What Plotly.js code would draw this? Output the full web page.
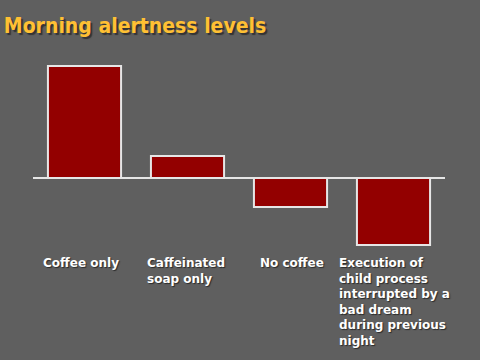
<!DOCTYPE html>
<html>
<head>
<meta charset="utf-8">
<script src="https://cdn.plot.ly/plotly-3.0.1.min.js"></script>
<style>html,body{margin:0;padding:0;background:#5f5f5f;}#chart{width:480px;height:360px;}</style>
</head>
<body>
<div id="chart"></div>
<script>
var categories = ["Coffee only", "Caffeinated soap only", "No coffee", "Execution of child process interrupted by a bad dream during previous night"];
var labels = ["Coffee only", "Caffeinated<br>soap only", "No coffee", "Execution of<br>child process<br>interrupted by a<br>bad dream<br>during previous<br>night"];
var alertness = [112, 22, -29, -67];

var labelShift = [-44, -43, -33, -57];
var annotations = categories.map(function (c, i) {
  return {
    x: c, xref: 'x', y: -76, yref: 'y',
    xanchor: 'left', yanchor: 'top', align: 'left',
    xshift: labelShift[i],
    text: labels[i], showarrow: false,
    font: {family: 'DejaVu Sans, Verdana, sans-serif', size: 12, color: '#ffffff', weight: 'bold', shadow: '1px 1px 1px #2a2a2a'}
  };
});

var data = [{
  type: 'bar',
  x: categories,
  y: alertness,
  marker: {color: '#930000', line: {color: '#e6e6e6', width: 2}},
  hoverinfo: 'none'
}];

var layout = {
  width: 480, height: 360,
  paper_bgcolor: '#5f5f5f', plot_bgcolor: '#5f5f5f',
  margin: {l: 33, r: 35, t: 50, b: 82},
  bargap: 0.29,
  showlegend: false,
  title: {
    text: 'Morning alertness levels',
    x: 0.008, xref: 'container', xanchor: 'left',
    y: 0.93, yref: 'container', yanchor: 'middle',
    font: {family: 'DejaVu Sans Condensed, Liberation Sans, sans-serif', size: 21, color: '#ffc033', weight: 'bold', shadow: '2px 2px 1px #333333'}
  },
  xaxis: {range: [-0.5, 3.5], showticklabels: false, showgrid: false, zeroline: false, showline: false, ticks: ''},
  yaxis: {range: [-100, 128], showticklabels: false, showgrid: false, zeroline: true, zerolinecolor: '#e6e6e6', zerolinewidth: 2, showline: false, ticks: ''},
  annotations: annotations
};

Plotly.newPlot('chart', data, layout, {staticPlot: true, displayModeBar: false});
</script>
</body>
</html>
